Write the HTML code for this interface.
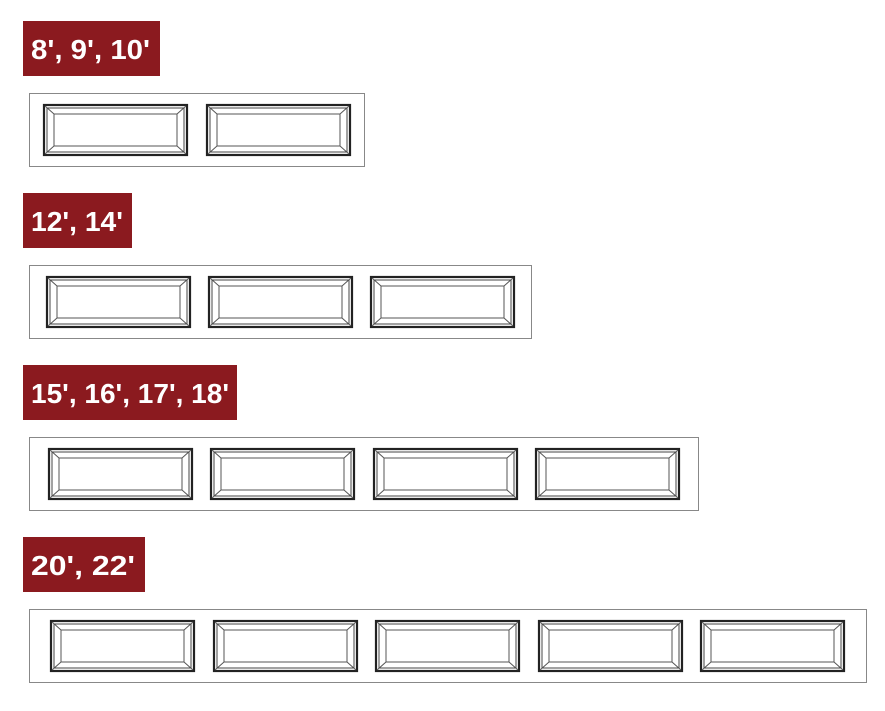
<!DOCTYPE html>
<html><head><meta charset="utf-8"><style>
html,body{margin:0;padding:0;background:#fff;width:885px;height:711px;overflow:hidden}
svg text{font-family:"Liberation Sans",sans-serif;font-weight:bold;fill:#fff;font-size:28px}
</style></head><body>
<svg width="885" height="711" viewBox="0 0 885 711" xmlns="http://www.w3.org/2000/svg">
<defs>
<g id="p">
<rect x="1" y="1" width="143" height="50" fill="#fff" stroke="#222" stroke-width="2.2"/>
<rect x="4" y="4" width="137" height="44" fill="none" stroke="#444" stroke-width="1"/>
<rect x="11" y="10" width="123" height="32" fill="none" stroke="#555" stroke-width="1"/>
<line x1="2" y1="2" x2="11" y2="10" stroke="#555" stroke-width="1"/>
<line x1="143" y1="2" x2="134" y2="10" stroke="#555" stroke-width="1"/>
<line x1="2" y1="50" x2="11" y2="42" stroke="#555" stroke-width="1"/>
<line x1="143" y1="50" x2="134" y2="42" stroke="#555" stroke-width="1"/>
</g>
</defs>
<rect x="23" y="21" width="137" height="55" fill="#8b1a1f"/>
<text x="31" y="59" textLength="119" lengthAdjust="spacingAndGlyphs">8', 9', 10'</text>
<rect x="29.5" y="93.5" width="335" height="73" fill="#fff" stroke="#888" stroke-width="1"/>
<use href="#p" x="43" y="104"/><use href="#p" x="206" y="104"/>

<rect x="23" y="193" width="109" height="55" fill="#8b1a1f"/>
<text x="31" y="231" textLength="92" lengthAdjust="spacingAndGlyphs">12', 14'</text>
<rect x="29.5" y="265.5" width="502" height="73" fill="#fff" stroke="#888" stroke-width="1"/>
<use href="#p" x="46" y="276"/><use href="#p" x="208" y="276"/><use href="#p" x="370" y="276"/>

<rect x="23" y="365" width="214" height="55" fill="#8b1a1f"/>
<text x="31" y="403" textLength="198" lengthAdjust="spacingAndGlyphs">15', 16', 17', 18'</text>
<rect x="29.5" y="437.5" width="669" height="73" fill="#fff" stroke="#888" stroke-width="1"/>
<use href="#p" x="48" y="448"/><use href="#p" x="210" y="448"/><use href="#p" x="373" y="448"/><use href="#p" x="535" y="448"/>

<rect x="23" y="537" width="122" height="55" fill="#8b1a1f"/>
<text x="31" y="575" textLength="104" lengthAdjust="spacingAndGlyphs">20', 22'</text>
<rect x="29.5" y="609.5" width="837" height="73" fill="#fff" stroke="#888" stroke-width="1"/>
<use href="#p" x="50" y="620"/><use href="#p" x="213" y="620"/><use href="#p" x="375" y="620"/><use href="#p" x="538" y="620"/><use href="#p" x="700" y="620"/>
</svg>
</body></html>
